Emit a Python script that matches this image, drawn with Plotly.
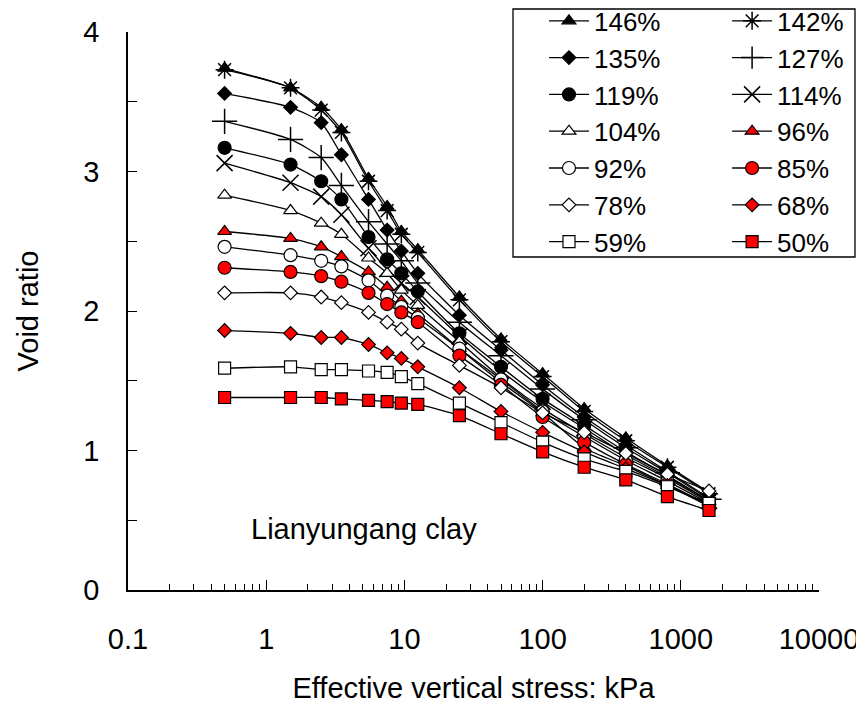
import plotly.graph_objects as go

# effective vertical stress (kPa)
stress = [0.5, 1.5, 2.5, 3.5, 5.5, 7.5, 9.5, 12.5, 25, 50, 100, 200, 400, 800, 1600]

# void ratio for each initial water content
e_146 = [3.74, 3.60, 3.46, 3.30, 2.95, 2.75, 2.57, 2.44, 2.10, 1.80, 1.55, 1.30, 1.09, 0.89, 0.70]
e_142 = [3.73, 3.60, 3.44, 3.28, 2.93, 2.72, 2.55, 2.42, 2.08, 1.78, 1.53, 1.28, 1.07, 0.88, 0.69]
e_135 = [3.56, 3.46, 3.35, 3.12, 2.80, 2.58, 2.43, 2.27, 1.97, 1.72, 1.47, 1.24, 1.04, 0.85, 0.66]
e_127 = [3.36, 3.23, 3.10, 2.90, 2.64, 2.48, 2.36, 2.20, 1.92, 1.68, 1.44, 1.22, 1.02, 0.84, 0.65]
e_119 = [3.17, 3.05, 2.93, 2.80, 2.53, 2.37, 2.27, 2.14, 1.84, 1.60, 1.37, 1.18, 0.99, 0.82, 0.64]
e_114 = [3.06, 2.92, 2.82, 2.69, 2.45, 2.30, 2.20, 2.10, 1.82, 1.57, 1.35, 1.16, 0.97, 0.81, 0.64]
e_104 = [2.83, 2.72, 2.63, 2.55, 2.38, 2.27, 2.15, 2.04, 1.78, 1.52, 1.30, 1.12, 0.95, 0.80, 0.63]
e_96 = [2.57, 2.52, 2.46, 2.39, 2.28, 2.17, 2.07, 1.98, 1.73, 1.49, 1.27, 1.02, 0.89, 0.75, 0.60]
e_92 = [2.46, 2.40, 2.36, 2.32, 2.22, 2.11, 2.03, 1.95, 1.73, 1.51, 1.28, 1.10, 0.93, 0.78, 0.62]
e_85 = [2.31, 2.28, 2.25, 2.21, 2.13, 2.05, 1.99, 1.92, 1.68, 1.47, 1.24, 1.06, 0.90, 0.76, 0.61]
e_78 = [2.13, 2.13, 2.10, 2.06, 1.99, 1.92, 1.87, 1.77, 1.61, 1.45, 1.27, 1.13, 0.98, 0.83, 0.71]
e_68 = [1.86, 1.84, 1.81, 1.81, 1.76, 1.70, 1.66, 1.60, 1.45, 1.28, 1.13, 0.99, 0.87, 0.75, 0.61]
e_59 = [1.59, 1.60, 1.58, 1.58, 1.57, 1.56, 1.53, 1.48, 1.34, 1.20, 1.06, 0.94, 0.85, 0.74, 0.62]
e_50 = [1.38, 1.38, 1.38, 1.37, 1.36, 1.35, 1.34, 1.33, 1.25, 1.12, 0.99, 0.88, 0.79, 0.67, 0.57]

x_tickvals = [0.1, 1, 10, 100, 1000, 10000]
x_ticktext = ["0.1", "1", "10", "100", "1000", "10000"]
y_tickvals = [0, 0.5, 1, 1.5, 2, 2.5, 3, 3.5, 4]
y_ticktext = ["0", "", "1", "", "2", "", "3", "", "4"]

FONT = "Liberation Sans, Arial, sans-serif"

# (label, values, symbol, fill, legend column)
series = [
    ("146%", e_146, "triangle-up", "black", "legend"),
    ("142%", e_142, "asterisk-open", "black", "legend2"),
    ("135%", e_135, "diamond", "black", "legend"),
    ("127%", e_127, "cross-thin-open", "black", "legend2"),
    ("119%", e_119, "circle", "black", "legend"),
    ("114%", e_114, "x-thin-open", "black", "legend2"),
    ("104%", e_104, "triangle-up", "white", "legend"),
    ("96%", e_96, "triangle-up", "red", "legend2"),
    ("92%", e_92, "circle", "white", "legend"),
    ("85%", e_85, "circle", "red", "legend2"),
    ("78%", e_78, "diamond", "white", "legend"),
    ("68%", e_68, "diamond", "red", "legend2"),
    ("59%", e_59, "square", "white", "legend"),
    ("50%", e_50, "square", "red", "legend2"),
]

marker_size = {"triangle-up": 12, "diamond": 10.5, "circle": 13, "square": 12,
               "asterisk-open": 15, "cross-thin-open": 18, "x-thin-open": 16}

fig = go.Figure()
for name, vals, sym, fill, leg in series:
    open_sym = sym.endswith("open")
    fig.add_trace(go.Scatter(
        x=stress, y=vals, name=name, mode="lines+markers", legend=leg,
        line=dict(color="black", width=1.3, shape="spline", smoothing=0.6),
        marker=dict(symbol=sym, size=marker_size[sym], color=fill,
                    line=dict(color="black", width=1.5 if open_sym else 1.2)),
    ))

legend_style = dict(
    yanchor="top", xanchor="left", y=1.062,
    bgcolor="rgba(0,0,0,0)", borderwidth=0,
    font=dict(family=FONT, size=26, color="black"),
    itemwidth=40, tracegroupgap=0,
)

# the page body adds an 8px offset, so the figure is 8px smaller than the window
fig.update_layout(
    width=856, height=696,
    margin=dict(l=120, r=45, t=24, b=114, autoexpand=False),
    plot_bgcolor="white", paper_bgcolor="white",
    font=dict(family=FONT, size=29, color="black"),
    legend=dict(x=0.602, **legend_style),
    legend2=dict(x=0.867, **legend_style),
    shapes=[dict(type="rect", xref="paper", yref="paper",
                 x0=(513 - 128) / 691, x1=(855 - 128) / 691,
                 y0=(590 - 257) / 558, y1=(590 - 9) / 558,
                 line=dict(color="black", width=1.3))],
    annotations=[dict(x=0.71, y=0.44, xref="x", yref="y", text="Lianyungang clay",
                      showarrow=False, font=dict(family=FONT, size=29, color="black"))],
)

fig.update_xaxes(
    type="log", range=[-1, 4], automargin=False,
    tickvals=x_tickvals, ticktext=x_ticktext,
    ticks="inside", ticklen=10, tickwidth=1.3, tickcolor="black",
    minor=dict(dtick="D1", ticks="inside", ticklen=6, tickwidth=1, tickcolor="black"),
    showline=True, linecolor="black", linewidth=1.5, showgrid=False, zeroline=False,
    ticklabelstandoff=22, tickfont=dict(size=29),
    title=dict(text="Effective vertical stress: kPa", font=dict(size=29), standoff=30),
)
fig.update_yaxes(
    range=[0, 4], automargin=False, tickvals=y_tickvals, ticktext=y_ticktext,
    ticks="inside", ticklen=9, tickwidth=1.3, tickcolor="black",
    showline=True, linecolor="black", linewidth=1.5, showgrid=False, zeroline=False,
    ticklabelstandoff=21, tickfont=dict(size=29),
    title=dict(text="Void ratio", font=dict(size=29), standoff=36),
)

fig.write_html("out.html")
